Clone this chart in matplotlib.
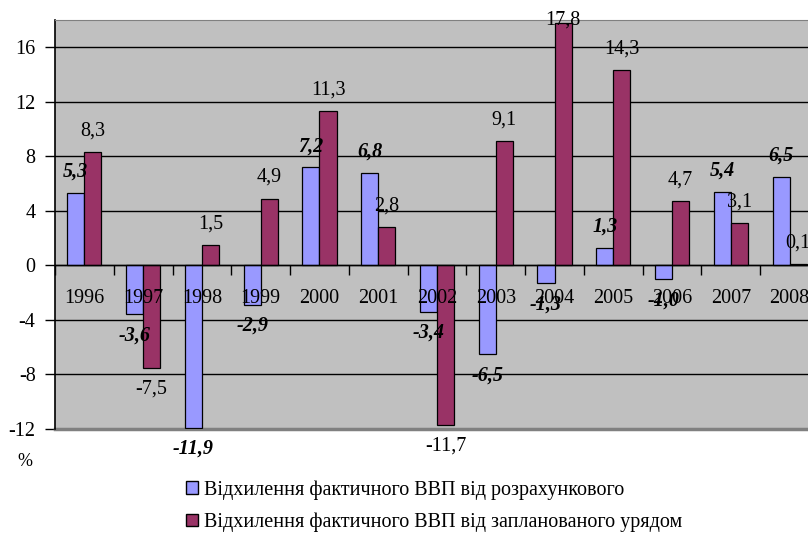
import numpy as np
import matplotlib.pyplot as plt
from matplotlib.patches import Patch

plt.rcParams['font.family'] = ['Liberation Serif', 'DejaVu Serif']
plt.rcParams['axes.unicode_minus'] = False

years = ['1996', '1997', '1998', '1999', '2000', '2001', '2002',
         '2003', '2004', '2005', '2006', '2007', '2008']
vs_calc = [5.3, -3.6, -11.9, -2.9, 7.2, 6.8, -3.4, -6.5, -1.3, 1.3, -1.0, 5.4, 6.5]
vs_plan = [8.3, -7.5, 1.5, 4.9, 11.3, 2.8, -11.7, 9.1, 17.8, 14.3, 4.7, 3.1, 0.1]
names = ['Відхилення фактичного ВВП від розрахункового',
         'Відхилення фактичного ВВП від запланованого урядом']

c_blue, c_red = '#9999FF', '#993366'
fs = 14.5
ymin, ymax = -12, 18

fig = plt.figure(figsize=(8.08, 5.33), dpi=100)
# the plot area runs past the right edge on purpose (2008 is cut off)
ax = fig.add_axes([55/808, 1 - 429/533, 764/808, 409/533])
ax.set_facecolor('#C0C0C0')

x = np.arange(len(years))
w = 0.29
ax.bar(x - w/2, vs_calc, w, color=c_blue, edgecolor='black', linewidth=0.9, zorder=3)
ax.bar(x + w/2, vs_plan, w, color=c_red, edgecolor='black', linewidth=0.9, zorder=3)

ax.set_xlim(-0.5, len(years) - 0.5)
ax.set_ylim(ymin, ymax)

# value labels, pushed ~1.55 units off the bar end
def label_bars(xs, vals, **kw):
    for xi, v in zip(xs, vals):
        y = v + (1.55 if v >= 0 else -1.55)
        y = min(y, ymax)
        ax.text(xi, y, f'{v:.1f}'.replace('.', ','), ha='center', va='center',
                fontsize=fs, zorder=5, clip_on=False, **kw)

label_bars(x - w/2, vs_calc, fontweight='bold', fontstyle='italic')
label_bars(x + w/2, vs_plan)

# y axis
ax.set_yticks(np.arange(-12, 17, 4))
ax.tick_params(axis='y', direction='out', length=7, width=1, labelsize=fs, pad=7)
ax.yaxis.grid(True, color='black', linewidth=1, zorder=1)
ax.set_axisbelow(True)

# category axis sits at zero
ax.spines['bottom'].set_position(('data', 0))
ax.spines['bottom'].set_zorder(4)
ax.spines['bottom'].set_linewidth(1)
ax.set_xticks(np.arange(-0.5, len(years), 1), minor=False)
ax.set_xticklabels([])
ax.tick_params(axis='x', direction='out', length=7, width=1)
for xi, yr in zip(x, years):
    ax.text(xi, -2.45, yr, ha='center', va='center', fontsize=fs, zorder=6)

ax.spines['left'].set_linewidth(1.2)
ax.spines['right'].set_visible(False)
ax.spines['top'].set_color('#808080')
ax.axhline(ymin, color='#808080', linewidth=2.5, zorder=2, clip_on=False)

fig.text(25/808, 1 - 462/533, '%', fontsize=13, ha='center', va='center')

handles = [Patch(facecolor=c_blue, edgecolor='black', linewidth=1),
           Patch(facecolor=c_red, edgecolor='black', linewidth=1)]
fig.legend(handles, names, loc='upper left', bbox_to_anchor=(178/808, 1 - 472/533),
           frameon=False, fontsize=fs, handlelength=0.6, handleheight=0.6,
           handletextpad=0.3, labelspacing=0.65, borderaxespad=0)

fig.savefig('out.png', dpi=100)
